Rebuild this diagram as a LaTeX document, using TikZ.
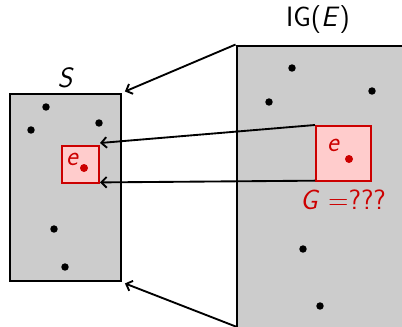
\documentclass[tikz,border=0pt]{standalone}
\usetikzlibrary{arrows.meta}
\definecolor{elemred}{RGB}{204,0,0}
\definecolor{elempink}{RGB}{255,204,204}

\begin{document}
\begin{tikzpicture}[
  x=0.75pt, y=-0.75pt, >={Straight Barb[length=4pt,width=8pt]},
  every node/.style={font=\fontsize{21}{25}\selectfont\sffamily},
  set/.style={draw,line width=2.2pt,fill=black!20,inner sep=0pt},
  elem/.style={draw=elemred,line width=1.5pt,fill=elempink,inner sep=0pt,minimum size=#1},
  pt/.style={circle,fill=black,inner sep=0pt,minimum size=5.6pt},
  redpt/.style={pt,fill=elemred,minimum size=6pt},
  lbl/.style={inner sep=0pt},
  map/.style={->,line width=1.4pt}]
\path[use as bounding box,clip] (0,0) rectangle (402,326);
% the two sets
\node[set,minimum width=83.25pt,minimum height=140.25pt] (S) at (65.5,187.5) {};
\node[set,minimum width=137.25pt,minimum height=224.25pt] (IG) at (328.5,195.5) {};
\node[lbl] (Slbl) at (65,78) {\itshape S};
\node[lbl] (IGlbl) at (318,20) {IG(\textit{E})};
\coordinate (IGlow) at (237,327);
% points
\node[pt] (s1) at (46,107) {};
\node[pt] (s2) at (31,130) {};
\node[pt] (s3) at (99,123) {};
\node[pt] (s4) at (54,229) {};
\node[pt] (s5) at (65,267) {};
\node[pt] (g1) at (292,68) {};
\node[pt] (g2) at (269,102) {};
\node[pt] (g3) at (372,91) {};
\node[pt] (g4) at (303,249) {};
\node[pt] (g5) at (320,306) {};
% the element e
\node[elem=27.75pt] (small) at (80.5,164.5) {};
\node[elem=41.25pt] (big) at (343.5,153.5) {};
\node[lbl,text=elemred] (esmall) at (72,159) {\itshape e};
\node[redpt] (dsmall) at (84,168) {};
\node[lbl,text=elemred] (ebig) at (333,145) {\itshape e};
\node[redpt] (dbig) at (349,159) {};
\node[lbl,text=elemred] (Glbl) at (343,200) {\textit{G} =???};
% maps
\draw[map,shorten >=2pt] (IG.north west) -- (S.north east);
\draw[map,shorten >=2pt] (IGlow) -- (S.south east);
\draw[map] (big.north west) -- ([yshift=1.5pt]small.north east);
\draw[map] ([yshift=1pt]big.south west) -- ([yshift=1.2pt]small.south east);
\end{tikzpicture}
\end{document}
